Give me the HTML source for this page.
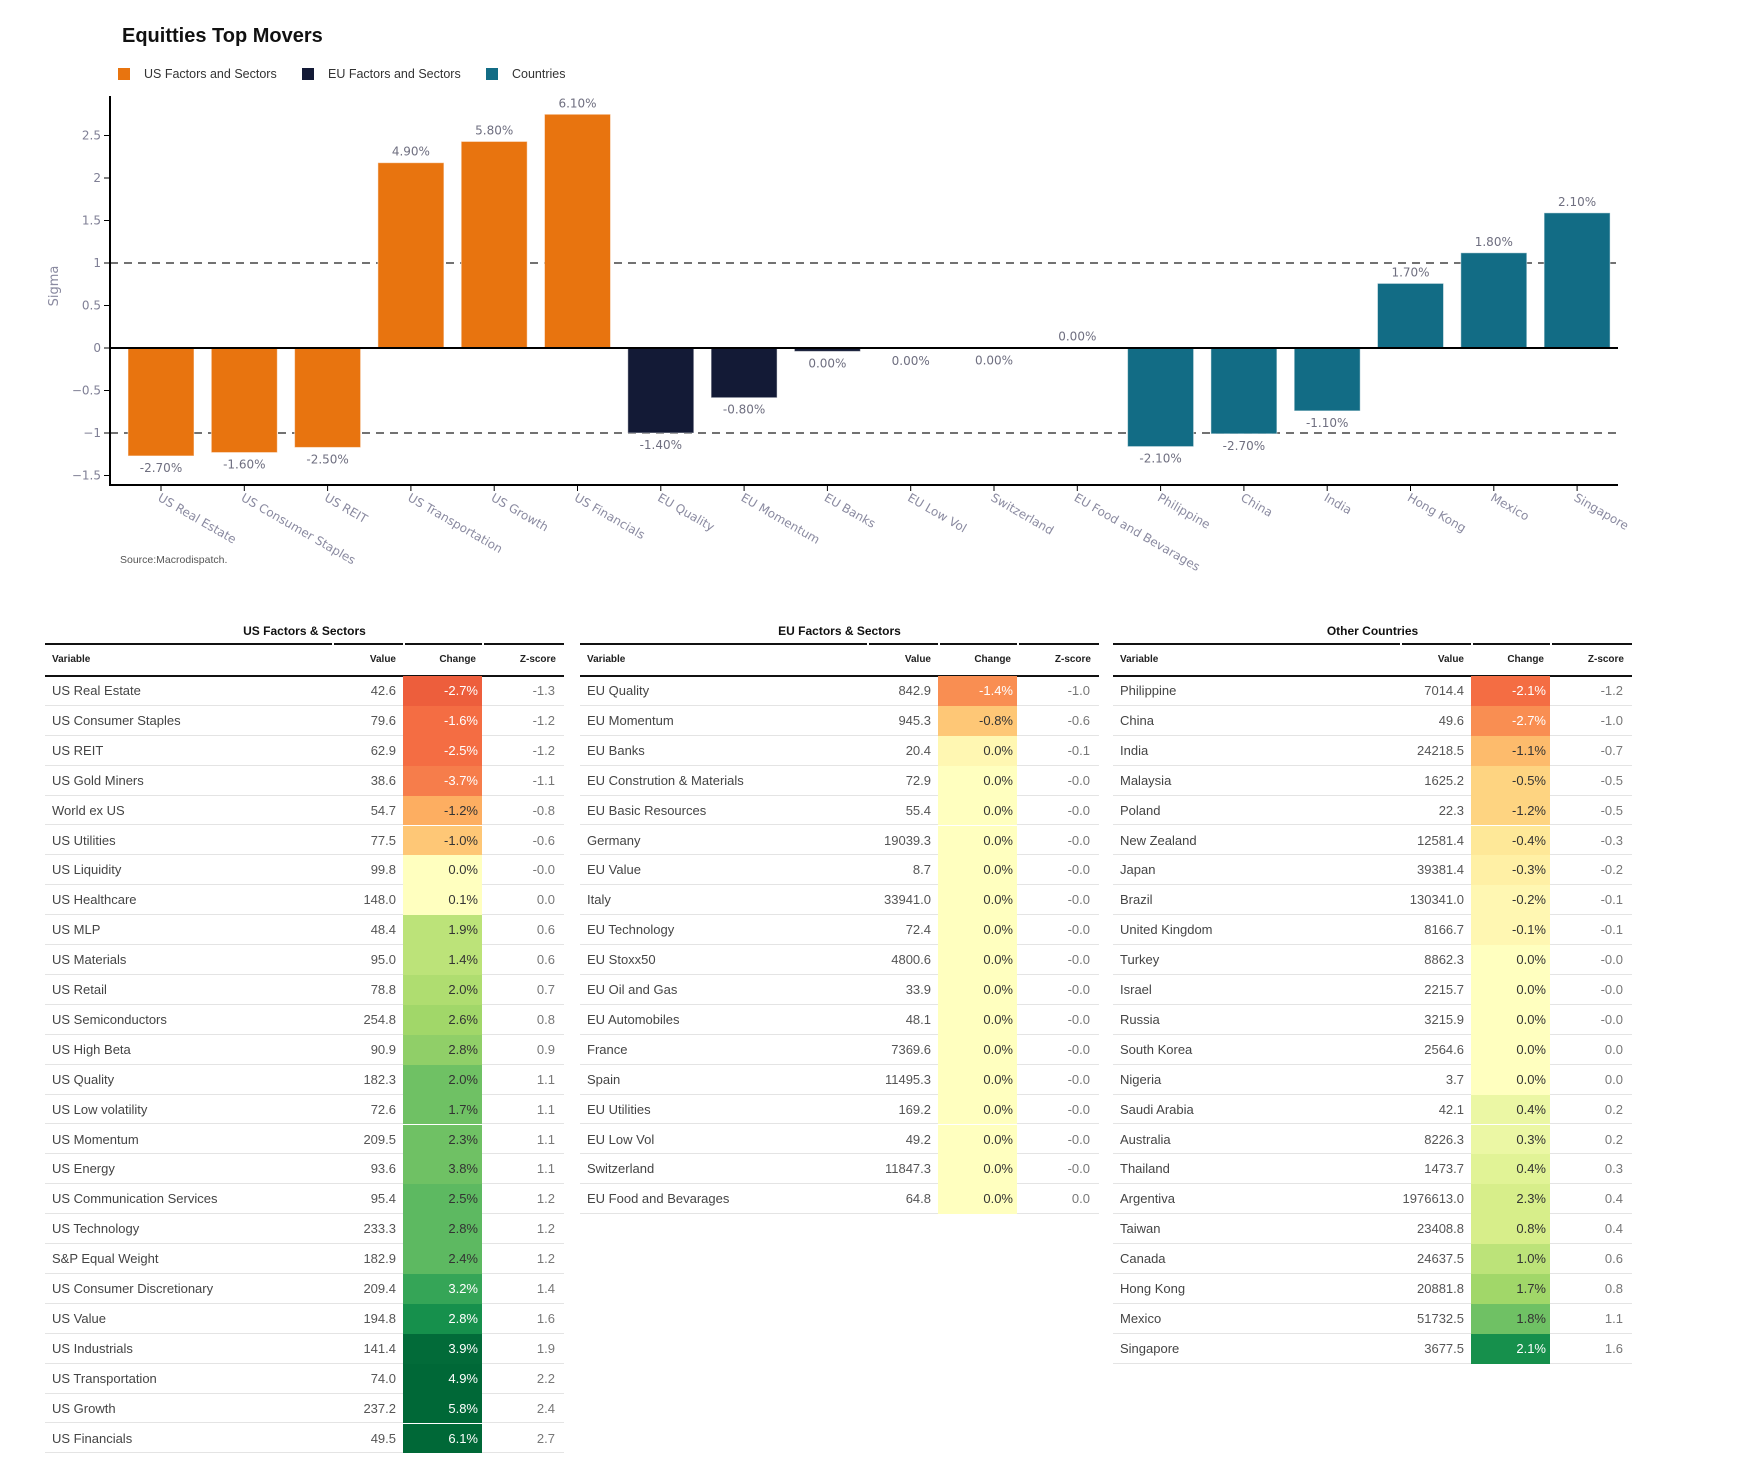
<!DOCTYPE html>
<html><head><meta charset="utf-8">
<style>
body{margin:0;background:#fff;width:1747px;height:1479px;overflow:hidden;position:relative;font-family:"Liberation Sans",sans-serif;}
#chart{position:absolute;left:0;top:0;}
.tbl{position:absolute;top:618px;width:519px;}
.tt{position:absolute;top:6px;left:0;width:519px;text-align:center;font-weight:bold;font-size:12px;color:#111;}
.cell{position:absolute;font-size:13px;line-height:29.9px;height:29.9px;white-space:nowrap;}
</style></head><body>
<svg id="chart" width="1747" height="600" font-family="DejaVu Sans, sans-serif"></svg>
<div id="tables"></div>
<script>
const categories=["US Real Estate","US Consumer Staples","US REIT","US Transportation","US Growth","US Financials","EU Quality","EU Momentum","EU Banks","EU Low Vol","Switzerland","EU Food and Bevarages","Philippine","China","India","Hong Kong","Mexico","Singapore"];
const sigmaValues=[-1.27,-1.23,-1.17,2.18,2.43,2.75,-1.0,-0.585,-0.04,-0.01,-0.005,0.005,-1.16,-1.01,-0.74,0.76,1.12,1.59];
const changeLabels=["-2.70%","-1.60%","-2.50%","4.90%","5.80%","6.10%","-1.40%","-0.80%","0.00%","0.00%","0.00%","0.00%","-2.10%","-2.70%","-1.10%","1.70%","1.80%","2.10%"];
const groups=[0,0,0,0,0,0,1,1,1,1,1,1,2,2,2,2,2,2];
const groupNames=["US Factors and Sectors","EU Factors and Sectors","Countries"];
const yTicks=[-1.5,-1,-0.5,0,0.5,1,1.5,2,2.5];
const yTickLabels=["\u22121.5","\u22121","\u22120.5","0","0.5","1","1.5","2","2.5"];
const colors=["#e8740f","#131a36","#126c85"];
const NS="http://www.w3.org/2000/svg";
const svg=document.getElementById('chart');
const y0=348,unit=85,x0=161,step=83.3,bw=66;
function ys(v){return y0-v*unit;}
function xs(i){return x0+i*step;}
function mk(tag,attrs,txt){const e=document.createElementNS(NS,tag);for(const k in attrs)e.setAttribute(k,attrs[k]);if(txt!==undefined)e.textContent=txt;svg.appendChild(e);return e;}
let t=mk('text',{x:122,y:42,'font-size':20,'font-weight':'bold',fill:'#111','font-family':'Liberation Sans, sans-serif'},'Equitties Top Movers');


const lx=[118,302,486];
groupNames.forEach((g,i)=>{
  let r=mk('rect',{x:lx[i],y:68,width:12,height:12,fill:colors[i]});
  
  
  let tx=mk('text',{x:lx[i]+26,y:78,'font-size':12.5,fill:'#333','font-family':'Liberation Sans, sans-serif'},g);
  
  
});
[1,-1].forEach(v=>{let l=mk('line',{x1:110,x2:1618,y1:ys(v),y2:ys(v),stroke:'#444','stroke-width':1.6,'stroke-dasharray':'8,6'});

});
categories.forEach((c,i)=>{
  const v=sigmaValues[i];const top=Math.min(ys(v),y0),h=Math.abs(ys(v)-y0);
  let b=mk('rect',{x:xs(i)-bw/2,y:top,width:bw,height:Math.max(h,1),fill:colors[groups[i]],stroke:'rgba(255,255,255,0.5)','stroke-width':1});
  
  
  const ly=v>=0?ys(v)-7:ys(v)+16;
  let lt=mk('text',{x:xs(i),y:ly,'font-size':12,fill:'#6f6f80','text-anchor':'middle'},changeLabels[i]);
  
  
  let tk=mk('line',{x1:xs(i),x2:xs(i),y1:485,y2:491,stroke:'#000','stroke-width':1});
  
  
  let xl=mk('text',{x:0,y:0,'font-size':12,fill:'#8a8aa0',transform:'translate('+(xs(i)-4)+',500) rotate(30)'},c);
  
  
});
let zl=mk('line',{x1:110,x2:1618,y1:y0,y2:y0,stroke:'#000','stroke-width':2});


let ya=mk('line',{x1:110,x2:110,y1:96,y2:486,stroke:'#000','stroke-width':2});


let xa=mk('line',{x1:109,x2:1618,y1:485,y2:485,stroke:'#000','stroke-width':2});


yTicks.forEach((v,i)=>{
  let tk=mk('line',{x1:104,x2:110,y1:ys(v),y2:ys(v),stroke:'#000','stroke-width':1});
  
  
  let tl=mk('text',{x:101,y:ys(v)+4,'font-size':12,fill:'#7f7f95','text-anchor':'end'},yTickLabels[i]);
  
  
});
let yt=mk('text',{x:0,y:0,'font-size':13,fill:'#8a8aa0','text-anchor':'middle',transform:'translate(58,286) rotate(-90)'},'Sigma');


let src=mk('text',{x:120,y:563,'font-size':10.5,fill:'#555','font-family':'Liberation Sans, sans-serif'},'Source:Macrodispatch.');



const usNames=["US Real Estate","US Consumer Staples","US REIT","US Gold Miners","World ex US","US Utilities","US Liquidity","US Healthcare","US MLP","US Materials","US Retail","US Semiconductors","US High Beta","US Quality","US Low volatility","US Momentum","US Energy","US Communication Services","US Technology","S&P Equal Weight","US Consumer Discretionary","US Value","US Industrials","US Transportation","US Growth","US Financials"];
const usValues=["42.6","79.6","62.9","38.6","54.7","77.5","99.8","148.0","48.4","95.0","78.8","254.8","90.9","182.3","72.6","209.5","93.6","95.4","233.3","182.9","209.4","194.8","141.4","74.0","237.2","49.5"];
const usChanges=["-2.7%","-1.6%","-2.5%","-3.7%","-1.2%","-1.0%","0.0%","0.1%","1.9%","1.4%","2.0%","2.6%","2.8%","2.0%","1.7%","2.3%","3.8%","2.5%","2.8%","2.4%","3.2%","2.8%","3.9%","4.9%","5.8%","6.1%"];
const usZ=["-1.3","-1.2","-1.2","-1.1","-0.8","-0.6","-0.0","0.0","0.6","0.6","0.7","0.8","0.9","1.1","1.1","1.1","1.1","1.2","1.2","1.2","1.4","1.6","1.9","2.2","2.4","2.7"];
const euNames=["EU Quality","EU Momentum","EU Banks","EU Constrution & Materials","EU Basic Resources","Germany","EU Value","Italy","EU Technology","EU Stoxx50","EU Oil and Gas","EU Automobiles","France","Spain","EU Utilities","EU Low Vol","Switzerland","EU Food and Bevarages"];
const euValues=["842.9","945.3","20.4","72.9","55.4","19039.3","8.7","33941.0","72.4","4800.6","33.9","48.1","7369.6","11495.3","169.2","49.2","11847.3","64.8"];
const euChanges=["-1.4%","-0.8%","0.0%","0.0%","0.0%","0.0%","0.0%","0.0%","0.0%","0.0%","0.0%","0.0%","0.0%","0.0%","0.0%","0.0%","0.0%","0.0%"];
const euZ=["-1.0","-0.6","-0.1","-0.0","-0.0","-0.0","-0.0","-0.0","-0.0","-0.0","-0.0","-0.0","-0.0","-0.0","-0.0","-0.0","-0.0","0.0"];
const ocNames=["Philippine","China","India","Malaysia","Poland","New Zealand","Japan","Brazil","United Kingdom","Turkey","Israel","Russia","South Korea","Nigeria","Saudi Arabia","Australia","Thailand","Argentiva","Taiwan","Canada","Hong Kong","Mexico","Singapore"];
const ocValues=["7014.4","49.6","24218.5","1625.2","22.3","12581.4","39381.4","130341.0","8166.7","8862.3","2215.7","3215.9","2564.6","3.7","42.1","8226.3","1473.7","1976613.0","23408.8","24637.5","20881.8","51732.5","3677.5"];
const ocChanges=["-2.1%","-2.7%","-1.1%","-0.5%","-1.2%","-0.4%","-0.3%","-0.2%","-0.1%","0.0%","0.0%","0.0%","0.0%","0.0%","0.4%","0.3%","0.4%","2.3%","0.8%","1.0%","1.7%","1.8%","2.1%"];
const ocZ=["-1.2","-1.0","-0.7","-0.5","-0.5","-0.3","-0.2","-0.1","-0.1","-0.0","-0.0","-0.0","0.0","0.0","0.2","0.2","0.3","0.4","0.4","0.6","0.8","1.1","1.6"];
const stops=["#a50026","#d73027","#f46d43","#fdae61","#fee08b","#ffffbf","#d9ef8b","#a6d96a","#66bd63","#1a9850","#006837"];
function hx(c){return [1,3,5].map(i=>parseInt(c.substr(i,2),16));}
function cmap(z){let t=z<0?0.5+z*0.25:0.5+z*0.26;t=Math.max(0,Math.min(1,t));const p=t*10,i=Math.min(9,Math.floor(p)),f=p-i;const a=hx(stops[i]),b=hx(stops[i+1]);return 'rgb('+a.map((v,k)=>Math.round(v+(b[k]-v)*f)).join(',')+')';}
const host=document.getElementById('tables');
const RH=29.9;
function table(left,title,names,vals,chg,zs,key){
  const d=document.createElement('div');d.className='tbl';d.style.left=left+'px';
  
  
  const H=names.length*RH+58;d.style.height=H+'px';
  let h='<div class="tt">'+title+'</div>';
  h+='<div style="position:absolute;top:25px;left:0;width:519px;height:2px;background:#111"></div>';
  [287,358,437].forEach(x=>{h+='<div style="position:absolute;top:25px;left:'+x+'px;width:2px;height:2px;background:#fff"></div>';});
  h+='<div style="position:absolute;top:57px;left:0;width:519px;height:2px;background:#111"></div>';
  const hs='font-weight:bold;font-size:10px;color:#222;top:27px;';
  h+='<div class="cell" style="'+hs+'left:7px">Variable</div>';
  h+='<div class="cell" style="'+hs+'right:168px">Value</div>';
  h+='<div class="cell" style="'+hs+'right:88px">Change</div>';
  h+='<div class="cell" style="'+hs+'right:8px">Z-score</div>';
  names.forEach((n,i)=>{
    const top=58+i*RH;const z=parseFloat(zs[i]);
    const white=(z<=-1.0||z>=1.4);
    h+='<div style="position:absolute;left:0;top:'+top+'px;width:519px;height:'+RH+'px;border-bottom:1px solid #e4e4e4;box-sizing:border-box"></div>';
    h+='<div style="position:absolute;left:358px;top:'+top+'px;width:79px;height:'+RH+'px;background:'+cmap(z)+'"></div>';
    h+='<div class="cell" style="top:'+top+'px;left:7px;color:#444">'+n.replace('&','&amp;')+'</div>';
    h+='<div class="cell" style="top:'+top+'px;right:168px;color:#555">'+vals[i]+'</div>';
    h+='<div class="cell" style="top:'+top+'px;right:86px;color:'+(white?'#fff':'#333')+'">'+chg[i]+'</div>';
    h+='<div class="cell" style="top:'+top+'px;right:9px;color:#777">'+zs[i]+'</div>';
  });
  d.innerHTML=h;host.appendChild(d);
}
table(45,"US Factors &amp; Sectors",usNames,usValues,usChanges,usZ,'us');
table(580,"EU Factors &amp; Sectors",euNames,euValues,euChanges,euZ,'eu');
table(1113,"Other Countries",ocNames,ocValues,ocChanges,ocZ,'other');
</script>
</body></html>
